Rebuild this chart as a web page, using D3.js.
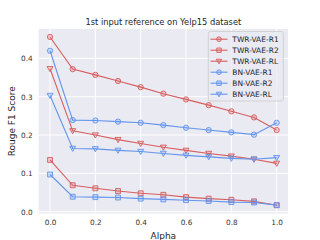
<!DOCTYPE html>
<html>
<head>
<meta charset="utf-8">
<script src="https://cdn.jsdelivr.net/npm/d3@7"></script>
<style>
  body { margin: 0; background: white; }
  svg { font-family: "DejaVu Sans", sans-serif; display: block; }
</style>
</head>
<body>
<div id="chart"></div>
<script>
// data
var alphas = [0.0, 0.1, 0.2, 0.3, 0.4, 0.5, 0.6, 0.7, 0.8, 0.9, 1.0];
var twrR1 = [0.456, 0.372, 0.357, 0.341, 0.325, 0.308, 0.293, 0.278, 0.262, 0.246, 0.213];
var twrR2 = [0.135, 0.069, 0.061, 0.054, 0.048, 0.044, 0.038, 0.034, 0.031, 0.027, 0.017];
var twrRL = [0.373, 0.211, 0.200, 0.188, 0.178, 0.168, 0.160, 0.152, 0.145, 0.137, 0.126];
var bnR1 = [0.420, 0.239, 0.238, 0.235, 0.232, 0.226, 0.219, 0.213, 0.207, 0.201, 0.232];
var bnR2 = [0.097, 0.039, 0.038, 0.037, 0.034, 0.032, 0.030, 0.028, 0.025, 0.024, 0.017];
var bnRL = [0.303, 0.165, 0.164, 0.160, 0.157, 0.152, 0.147, 0.143, 0.139, 0.137, 0.141];
var xTicks = [0.0, 0.2, 0.4, 0.6, 0.8, 1.0];
var yTicks = [0.0, 0.1, 0.2, 0.3, 0.4];

var red = "#d65f5f", blue = "#6495ed";
var series = [
  {name: "TWR-VAE-R1", values: twrR1, color: red, marker: "circle"},
  {name: "TWR-VAE-R2", values: twrR2, color: red, marker: "square"},
  {name: "TWR-VAE-RL", values: twrRL, color: red, marker: "triangle"},
  {name: "BN-VAE-R1", values: bnR1, color: blue, marker: "circle"},
  {name: "BN-VAE-R2", values: bnR2, color: blue, marker: "square"},
  {name: "BN-VAE-RL", values: bnRL, color: blue, marker: "triangle"}
];

var W = 320, H = 240;
var pLeft = 38.7, pRight = 288, pTop = 28.9, pBottom = 213.6;

var svg = d3.select("#chart").append("svg")
    .attr("width", W)
    .attr("height", H);

var x = d3.scaleLinear().domain([-0.05, 1.05]).range([pLeft, pRight]);
var y = d3.scaleLinear().domain([-0.005, 0.477]).range([pBottom, pTop]);

svg.append("rect")
    .attr("x", pLeft).attr("y", pTop)
    .attr("width", pRight - pLeft).attr("height", pBottom - pTop)
    .attr("fill", "#eaeaf2");

// grid
svg.append("g").selectAll("line").data(xTicks).enter().append("line")
    .attr("x1", d => x(d)).attr("x2", d => x(d))
    .attr("y1", pTop).attr("y2", pBottom)
    .attr("stroke", "white").attr("stroke-width", 1);
svg.append("g").selectAll("line").data(yTicks).enter().append("line")
    .attr("y1", d => y(d)).attr("y2", d => y(d))
    .attr("x1", pLeft).attr("x2", pRight)
    .attr("stroke", "white").attr("stroke-width", 1);

// axes (no domain line, no ticks - seaborn style)
var xAxis = svg.append("g")
    .attr("transform", "translate(0," + pBottom + ")")
    .call(d3.axisBottom(x).tickValues(xTicks).tickFormat(d3.format(".1f")).tickSize(0).tickPadding(6.5));
var yAxis = svg.append("g")
    .attr("transform", "translate(" + pLeft + ",0)")
    .call(d3.axisLeft(y).tickValues(yTicks).tickFormat(d3.format(".1f")).tickSize(0).tickPadding(6));
[xAxis, yAxis].forEach(function(a) {
  a.select(".domain").remove();
  a.selectAll("text").attr("font-size", 7.3).attr("fill", "#333").attr("font-family", "DejaVu Sans");
});

function markerPath(type, k) {
  k = k || 1;
  if (type === "circle") return d3.symbol().type(d3.symbolCircle).size(22 * k)();
  if (type === "square") return d3.symbol().type(d3.symbolSquare).size(24 * k)();
  var r = Math.sqrt(k);
  return "M" + (-3 * r) + "," + (-2.2 * r) + "L" + (3 * r) + "," + (-2.2 * r) + "L0," + (3 * r) + "Z";
}

var line = d3.line().x((d, i) => x(alphas[i])).y(d => y(d));

series.forEach(function(s) {
  var g = svg.append("g");
  g.append("path")
      .datum(s.values)
      .attr("d", line)
      .attr("fill", "none")
      .attr("stroke", s.color)
      .attr("stroke-width", 1.1);
  g.selectAll(".pt").data(s.values).enter().append("path")
      .attr("transform", (d, i) => "translate(" + x(alphas[i]) + "," + y(d) + ")")
      .attr("d", markerPath(s.marker))
      .attr("fill", s.color).attr("fill-opacity", 0.25)
      .attr("stroke", s.color).attr("stroke-width", 0.9);
});

// legend
var lg = svg.append("g");
lg.append("rect")
    .attr("x", 208.3).attr("y", 31.5)
    .attr("width", 75).attr("height", 69.5)
    .attr("rx", 2)
    .attr("fill", "#eaeaf2").attr("fill-opacity", 0.8)
    .attr("stroke", "#cccccc").attr("stroke-width", 0.8);
series.forEach(function(s, i) {
  var yy = 39.2 + i * 11;
  lg.append("line")
      .attr("x1", 210.5).attr("x2", 227.5)
      .attr("y1", yy).attr("y2", yy)
      .attr("stroke", s.color).attr("stroke-width", 1.1);
  lg.append("path")
      .attr("transform", "translate(219," + yy + ")")
      .attr("d", markerPath(s.marker, 0.8))
      .attr("fill", s.color).attr("fill-opacity", 0.25)
      .attr("stroke", s.color).attr("stroke-width", 0.9);
  lg.append("text")
      .attr("x", 232.3).attr("y", yy + 2.7)
      .attr("font-size", 7.5).attr("fill", "#262626")
      .text(s.name);
});

// title and axis labels
svg.append("text")
    .attr("x", (pLeft + pRight) / 2).attr("y", 25)
    .attr("text-anchor", "middle")
    .attr("font-size", 8.3).attr("fill", "#262626")
    .text("1st input reference on Yelp15 dataset");
svg.append("text")
    .attr("x", (pLeft + pRight) / 2).attr("y", 238.5)
    .attr("text-anchor", "middle")
    .attr("font-size", 9).attr("fill", "#262626")
    .text("Alpha");
svg.append("text")
    .attr("transform", "translate(15," + ((pTop + pBottom) / 2) + ") rotate(-90)")
    .attr("text-anchor", "middle")
    .attr("font-size", 9).attr("fill", "#262626")
    .text("Rouge F1 Score");
</script>
</body>
</html>
